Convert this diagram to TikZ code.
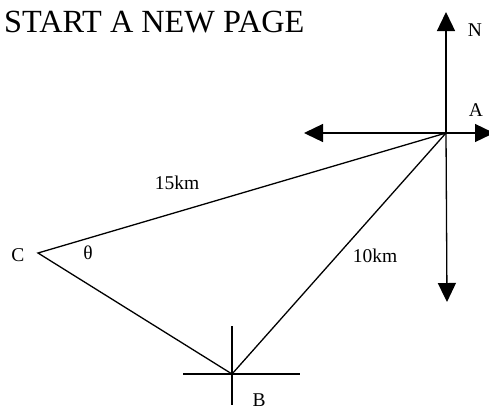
\documentclass[tikz,border=0pt]{standalone}
\usepackage{fontspec}
\setmainfont{Liberation Serif}
\usetikzlibrary{arrows.meta}
\begin{document}
\begin{tikzpicture}[x=1pt,y=-1pt,
  line/.style={line width=1.3pt},
  compass/.style={line width=1.3pt,-{Triangle[length=19pt,width=18pt]}},
  lbl/.style={font=\fontsize{19.5}{19.5}\selectfont,inner sep=0pt}]
\clip (0,0) rectangle (489,405);
\useasboundingbox (0,0) rectangle (489,405);
\node[anchor=west,inner sep=0pt,font=\fontsize{32.3}{32}\selectfont] (title) at (4,22) {START A NEW PAGE};
\coordinate (A) at (446,133);
\coordinate (B) at (232,374);
\coordinate (C) at (38,253);
\coordinate (Nt) at (446,12);
\coordinate (St) at (447,302);
\coordinate (Wt) at (304,133);
\coordinate (Et) at (494,133);
\coordinate (Bn) at (232,326);
\coordinate (Bs) at (232,405);
\coordinate (Bw) at (183,374);
\coordinate (Be) at (300,374);
\draw[compass] (A) -- (Nt);
\draw[compass] (A) -- (St);
\draw[compass] (A) -- (Wt);
\draw[compass] (A) -- (Et);
\draw[line] (Bn) -- (Bs);
\draw[line] (Bw) -- (Be);
\draw[line] (A) -- (C) -- (B) -- (A);
\node[lbl] (lN) at (475,30) {N};
\node[lbl] (lA) at (476,110) {A};
\node[lbl] (lC) at (18,255) {C};
\node[lbl] (lB) at (259,400) {B};
\node[lbl] (lth) at (88,253) {θ};
\node[lbl] (l15) at (177,183) {15km};
\node[lbl] (l10) at (375,256) {10km};
\end{tikzpicture}
\end{document}
